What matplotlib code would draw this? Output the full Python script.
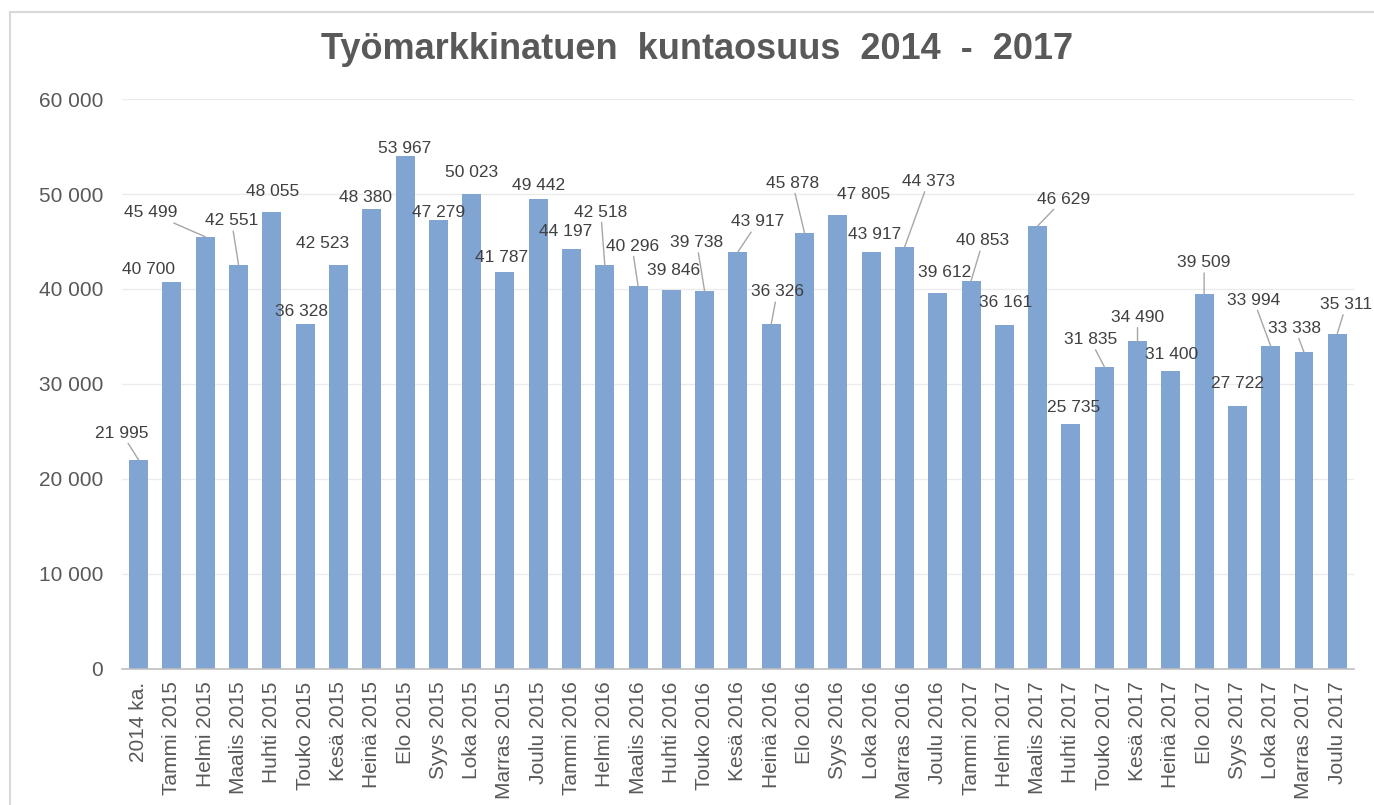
import matplotlib.pyplot as plt
from matplotlib.patches import Rectangle

plt.rcParams['font.family'] = ['Liberation Sans', 'DejaVu Sans']

# kuukaudet
categories = ['2014 ka.',
              'Tammi 2015', 'Helmi 2015', 'Maalis 2015', 'Huhti 2015', 'Touko 2015', 'Kesä 2015',
              'Heinä 2015', 'Elo 2015', 'Syys 2015', 'Loka 2015', 'Marras 2015', 'Joulu 2015',
              'Tammi 2016', 'Helmi 2016', 'Maalis 2016', 'Huhti 2016', 'Touko 2016', 'Kesä 2016',
              'Heinä 2016', 'Elo 2016', 'Syys 2016', 'Loka 2016', 'Marras 2016', 'Joulu 2016',
              'Tammi 2017', 'Helmi 2017', 'Maalis 2017', 'Huhti 2017', 'Touko 2017', 'Kesä 2017',
              'Heinä 2017', 'Elo 2017', 'Syys 2017', 'Loka 2017', 'Marras 2017', 'Joulu 2017']

values = [21995,
          40700, 45499, 42551, 48055, 36328, 42523,
          48380, 53967, 47279, 50023, 41787, 49442,
          44197, 42518, 40296, 39846, 39738, 43917,
          36326, 45878, 47805, 43917, 44373, 39612,
          40853, 36161, 46629, 25735, 31835, 34490,
          31400, 39509, 27722, 33994, 33338, 35311]

# label placement (pixels from bar top) and which labels get leader lines
label_offsets = [(-17, 27),
                 (-23, 13), (-55, 24), (-7, 44), (1, 21), (-4, 12), (-16, 22),
                 (-6, 12), (0, 8), (0, 7), (0, 21), (-3, 15), (0, 14),
                 (-6, 18), (-4, 53), (-6, 40), (2, 20), (-8, 49), (20, 30),
                 (6, 32), (-12, 50), (26, 20), (3, 17), (24, 66), (7, 20),
                 (12, 40), (1, 23), (26, 27), (3, 17), (-14, 27), (0, 24),
                 (1, 16), (0, 31), (0, 22), (-17, 46), (-9, 24), (9, 29)]
leaders = [0, 2, 3, 14, 15, 17, 18, 19, 20, 23, 25, 27, 29, 30, 32, 34, 35, 36]


def fmt(v):
    return f'{v:,}'.replace(',', ' ')


fig = plt.figure(figsize=(13.74, 8.05), dpi=100)
ax = fig.add_axes([0.0888, 0.169, 0.8966, 0.708])

x = range(len(values))
ax.bar(x, values, width=0.57, color='#81A5D3', zorder=2)

for i, v in enumerate(values):
    kw = {}
    if i in leaders:
        kw['arrowprops'] = dict(arrowstyle='-', color='#A6A6A6', lw=1.0,
                                shrinkA=0, shrinkB=0)
    ax.annotate(fmt(v), xy=(i, v), xytext=label_offsets[i],
                textcoords='offset pixels', ha='center', va='center',
                fontsize=12.5, color='#404040', zorder=3, **kw)

ax.set_xlim(-0.5, len(values) - 0.5)
ax.set_ylim(0, 60000)
ax.set_yticks(range(0, 60001, 10000))
ax.set_yticklabels([fmt(t) for t in range(0, 60001, 10000)])
ax.set_xticks(list(x))
ax.set_xticklabels(categories, rotation=90)
ax.tick_params(axis='y', length=0, pad=13.5, labelsize=15, labelcolor='#595959')
ax.tick_params(axis='x', length=0, pad=9, labelsize=15, labelcolor='#595959')
ax.grid(axis='y', color='#EBEBEB', lw=1, zorder=0)
for s in ['top', 'right', 'left']:
    ax.spines[s].set_visible(False)
ax.spines['bottom'].set_color('#BFBFBF')
ax.spines['bottom'].set_linewidth(1.2)

fig.text(0.5076, 0.938, 'Työmarkkinatuen  kuntaosuus  2014  -  2017', ha='center', va='center',
         fontsize=26, fontweight='bold', color='#595959')

# chart frame
fig.patches.append(Rectangle((10 / 1374, -0.1), 1.2, 1 - 12 / 805 + 0.1, transform=fig.transFigure,
                             fill=False, edgecolor='#D9D9D9', lw=1.5))

fig.savefig('out.png', dpi=100)
